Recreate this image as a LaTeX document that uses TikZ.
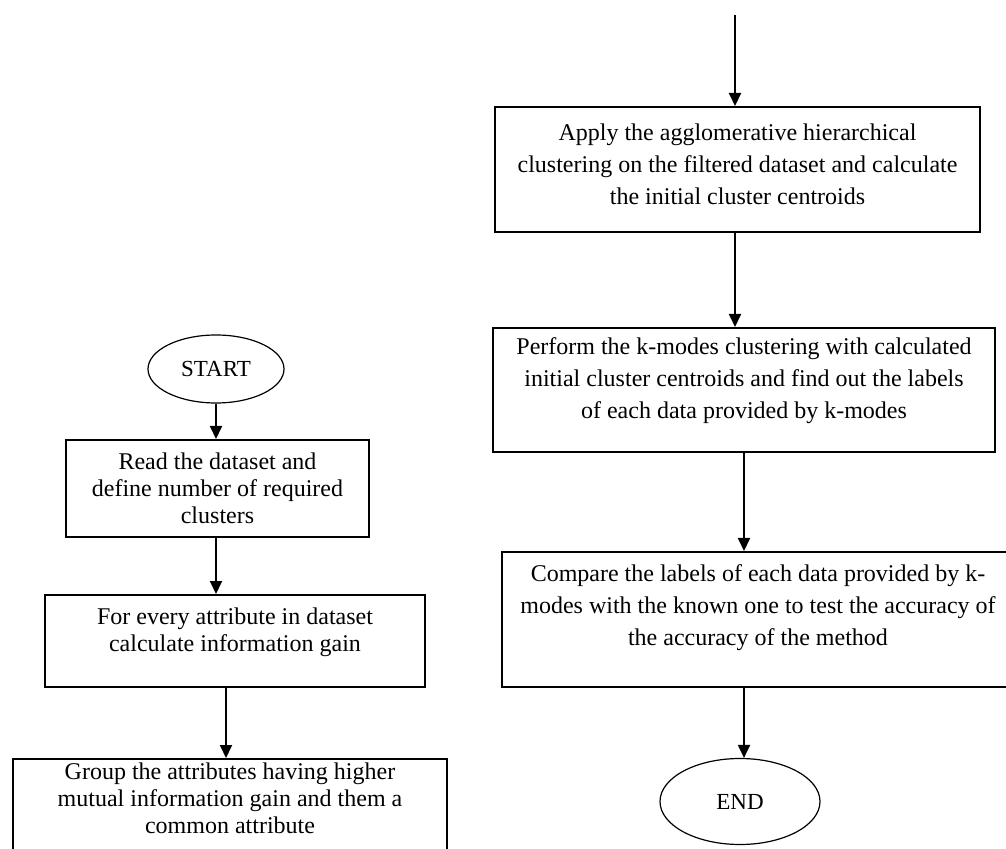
\documentclass[tikz,border=0pt]{standalone}
\usepackage{fontspec}
\setmainfont{Liberation Serif}
\usetikzlibrary{shapes.geometric,arrows.meta}

\begin{document}
\begin{tikzpicture}[x=0.5pt,y=-0.5pt,font=\fontsize{12}{16}\selectfont]
  \path[use as bounding box] (0,0) rectangle (1006,849);

  \tikzset{stepbox/.style={draw,line width=1pt,align=center,inner sep=2pt},
           tight/.style={font=\fontsize{12}{13.5}\selectfont},
           terminal/.style={draw,ellipse,line width=.6pt,inner sep=0pt,font=\fontsize{11.5}{14}\selectfont},
           flow/.style={line width=1pt,-{Triangle[length=6.5pt,width=6pt]}}}

  % left column
  \node[terminal,minimum width=68pt,minimum height=34pt] (start) at (216,369) {START};
  \node[stepbox,tight,minimum width=151.5pt,minimum height=48.5pt] (read) at (217.5,488.5)
    {Read the dataset and\\define number of required\\clusters};
  \node[stepbox,tight,text depth=11pt,minimum width=190pt,minimum height=46pt] (gain) at (235,641)
    {For every attribute in dataset\\calculate information gain};
  \node[stepbox,tight,anchor=north,inner ysep=2pt,text depth=30pt,minimum width=217pt] (group) at (230,758)
    {Group the attributes having higher\\mutual information gain and them a\\common attribute};

  \draw[flow] (start) -- (start |- read.north);
  \draw[flow] (start |- read.south) -- (start |- gain.north);
  \draw[flow] ([xshift=-2pt]group.north |- gain.south) -- ([xshift=-2pt]group.north);

  % right column
  \coordinate (in) at (735,15);
  \node[stepbox,text depth=5pt,minimum width=242.5pt,minimum height=62.5pt] (agglo) at (737.5,169.5)
    {Apply the agglomerative hierarchical\\clustering on the filtered dataset and calculate\\the initial cluster centroids};
  \node[stepbox,text depth=12pt,minimum width=251pt,minimum height=62pt] (kmodes) at (744,390)
    {Perform the k-modes clustering with calculated\\initial cluster centroids and find out the labels\\of each data provided by k-modes};
  \node[stepbox,text depth=14pt,minimum width=256pt,minimum height=67.5pt] (compare) at (758,619.5)
    {Compare the labels of each data provided by k-\\modes with the known one to test the accuracy of\\the accuracy of the method};
  \node[terminal,minimum width=80pt,minimum height=43pt] (end) at (740,801.5) {END};

  \draw[flow] (in) -- (in |- agglo.north);
  \draw[flow] (in |- agglo.south) -- (in |- kmodes.north);
  \draw[flow] (kmodes.south) -- (kmodes.south |- compare.north);
  \draw[flow] (kmodes.south |- compare.south) -- (kmodes.south |- end.north);
\end{tikzpicture}
\end{document}
